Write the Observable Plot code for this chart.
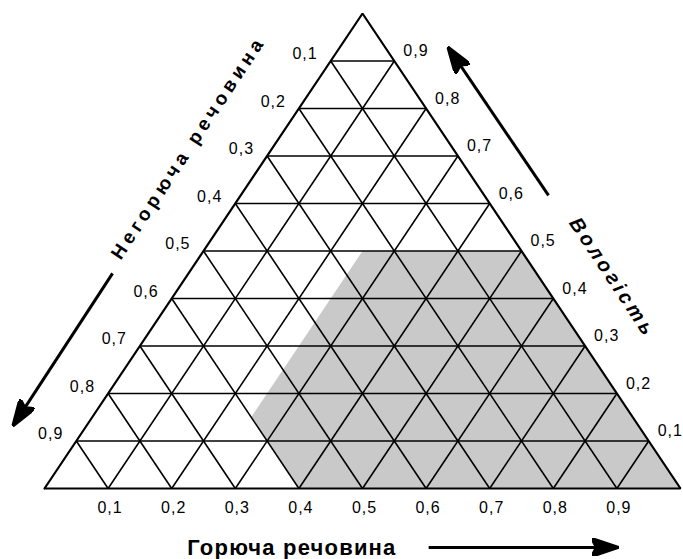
<!DOCTYPE html>
<html>
<head>
<meta charset="utf-8">
<script src="https://cdn.jsdelivr.net/npm/d3@7"></script>
<script src="https://cdn.jsdelivr.net/npm/@observablehq/plot@0.6"></script>
<style>
  html, body { margin: 0; padding: 0; background: #fff; }
  #chart { width: 683px; height: 559px; }
</style>
</head>
<body>
<div id="chart"></div>
<script>
// ---- data ----
const gridTicks = [0.1, 0.2, 0.3, 0.4, 0.5, 0.6, 0.7, 0.8, 0.9];
const tickLabels = ["0,1", "0,2", "0,3", "0,4", "0,5", "0,6", "0,7", "0,8", "0,9"];
const axisTitles = ["Горюча речовина", "Негорюча речовина", "Вологість"];
// combustible zone, ternary vertices: Горюча (C) and Вологість (W)
const zoneC = [0.4, 1.0, 0.5, 0.25, 0.25];
const zoneW = [0.0, 0.0, 0.5, 0.5, 0.15];

// ternary -> planar (x along base, y = moisture)
const tx = (c, w) => c + w / 2;

const horiz = gridTicks.map(t => ({x1: tx(0, t), y1: t, x2: tx(1 - t, t), y2: t}));
const constC = gridTicks.map(t => ({x1: tx(t, 0), y1: 0, x2: tx(t, 1 - t), y2: 1 - t}));
const constA = gridTicks.map(t => ({x1: tx(1 - t, 0), y1: 0, x2: tx(0, 1 - t), y2: 1 - t}));
const outline = [{c: 0, w: 0}, {c: 1, w: 0}, {c: 0, w: 1}, {c: 0, w: 0}].map(d => ({x: tx(d.c, d.w), y: d.w}));
const zone = zoneC.map((c, i) => ({x: tx(c, zoneW[i]), y: zoneW[i]}));

const leftLbl = gridTicks.map((t, i) => ({x: tx(0, 1 - t), y: 1 - t, label: tickLabels[i]}));
const rightLbl = gridTicks.map((t, i) => ({x: tx(1 - t, t), y: t, label: tickLabels[i]}));
const bottomLbl = gridTicks.map((t, i) => ({x: tx(t, 0), y: 0, label: tickLabels[i]}));

// arrows placed alongside each side of the triangle
const arrows = [
  {x1: 0.107, y1: 0.453, x2: -0.049, y2: 0.133},
  {x1: 0.7925, y1: 0.617, x2: 0.635, y2: 0.928},
  {x1: 0.604, y1: -0.124, x2: 0.901, y2: -0.124}
];

function filledArrow(color) {
  const ns = "http://www.w3.org/2000/svg";
  const m = document.createElementNS(ns, "marker");
  m.setAttribute("viewBox", "-26 -9 27 18");
  m.setAttribute("markerWidth", 27);
  m.setAttribute("markerHeight", 18);
  m.setAttribute("markerUnits", "userSpaceOnUse");
  m.setAttribute("refX", 0);
  m.setAttribute("refY", 0);
  m.setAttribute("orient", "auto");
  const p = document.createElementNS(ns, "path");
  p.setAttribute("d", "M-26,-9L1,0L-26,9L-21,0Z");
  p.setAttribute("fill", color);
  m.appendChild(p);
  return m;
}

const font = "'Liberation Sans', Arial, sans-serif";

const chart = Plot.plot({
  width: 683,
  height: 559,
  marginLeft: 44,
  marginRight: 3,
  marginTop: 13,
  marginBottom: 71,
  x: {domain: [0, 1], axis: null},
  y: {domain: [0, 1], axis: null},
  style: {background: "#fff", fontFamily: font},
  marks: [
    Plot.line(zone, {x: "x", y: "y", fill: "#c9c9c9", stroke: "none"}),
    Plot.link(horiz, {x1: "x1", y1: "y1", x2: "x2", y2: "y2", stroke: "#000", strokeWidth: 1.6}),
    Plot.link(constC, {x1: "x1", y1: "y1", x2: "x2", y2: "y2", stroke: "#000", strokeWidth: 1.6}),
    Plot.link(constA, {x1: "x1", y1: "y1", x2: "x2", y2: "y2", stroke: "#000", strokeWidth: 1.6}),
    Plot.line(outline, {x: "x", y: "y", stroke: "#000", strokeWidth: 2.2, strokeLinejoin: "miter"}),
    Plot.text(leftLbl, {x: "x", y: "y", text: "label", textAnchor: "end", dx: -13, dy: -7, fontSize: 16, fill: "#000"}),
    Plot.text(rightLbl, {x: "x", y: "y", text: "label", textAnchor: "start", dx: 9, dy: -10, fontSize: 16, fill: "#000"}),
    Plot.text(bottomLbl, {x: "x", y: "y", text: "label", dx: 2, dy: 19, fontSize: 16, fill: "#000"}),
    Plot.link(arrows, {x1: "x1", y1: "y1", x2: "x2", y2: "y2", stroke: "#000", strokeWidth: 3, markerEnd: filledArrow}),
    Plot.text([axisTitles[0]], {x: 0.389, y: -0.126, text: d => d, fontSize: 22, fontWeight: "bold", fill: "#000"}),
    Plot.text([axisTitles[1]], {x: 0.2264, y: 0.718, text: d => d, rotate: -56.5, fontSize: 19, fontWeight: "bold", fill: "#000"}),
    Plot.text([axisTitles[2]], {x: 0.893, y: 0.444, text: d => d, rotate: 56.5, fontSize: 20, fontWeight: "bold", fontStyle: "italic", fill: "#000"})
  ]
});

d3.select(chart).selectAll("text").each(function () {
  const s = this.textContent;
  if (/^0,\d$/.test(s)) this.style.letterSpacing = "1px";
  else if (s === axisTitles[0]) this.style.letterSpacing = "1.2px";
  else if (s === axisTitles[1]) this.style.letterSpacing = "4.5px";
  else if (s === axisTitles[2]) this.style.letterSpacing = "3.5px";
});

document.getElementById("chart").appendChild(chart);
</script>
</body>
</html>
